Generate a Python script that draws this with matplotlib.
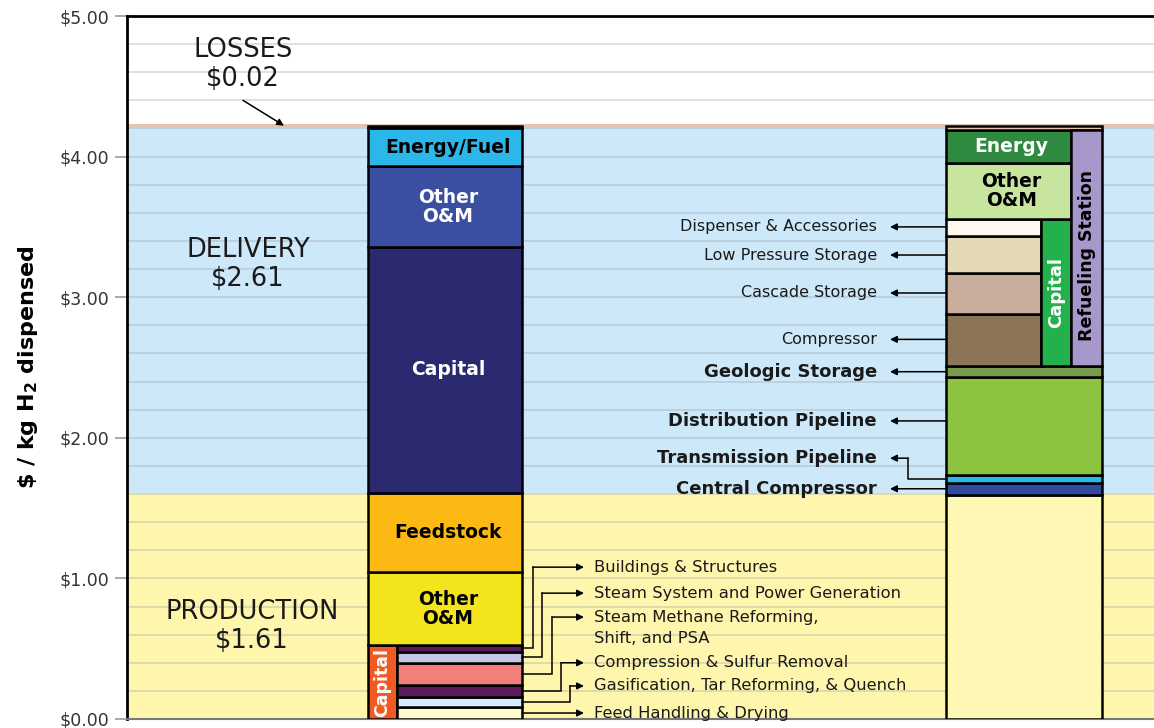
import numpy as np
import matplotlib
matplotlib.use('Agg')
import matplotlib.pyplot as plt

# ---- data ($ / kg H2) ----
band_names = ['PRODUCTION', 'DELIVERY', 'LOSSES']
band_values = [1.61, 2.60, 0.02]
band_labels = ['$1.61', '$2.61', '$0.02']

# left bar: production capital detail (bottom -> top)
prod_cap_names = ['Feed Handling & Drying',
                  'Gasification, Tar Reforming, & Quench',
                  'Compression & Sulfur Removal',
                  'Steam Methane Reforming,\nShift, and PSA',
                  'Steam System and Power Generation',
                  'Buildings & Structures']
prod_cap_values = [0.085, 0.071, 0.089, 0.153, 0.082, 0.046]
prod_cap_colors = ['#FFFBCC', '#D3EBFA', '#5E1B5C', '#F27F7A', '#C6C8E8', '#5A1D5A']

# left bar: main stack above the capital block (bottom -> top)
left_names = ['Other\nO&M', 'Feedstock', 'Capital', 'Other\nO&M', 'Energy/Fuel', '']
left_values = [0.519, 0.565, 1.75, 0.57, 0.27, 0.02]
left_colors = ['#F4E41C', '#FDB913', '#2B2A70', '#3A4FA1', '#2BB7EA', '#E6C3AC']
left_text_colors = ['black', 'black', 'white', 'white', 'black', 'black']

# right bar: production + delivery pieces (bottom -> top)
right_names = ['', 'Central Compressor', 'Transmission Pipeline',
               'Distribution Pipeline', 'Geologic Storage']
right_values = [1.595, 0.085, 0.055, 0.695, 0.08]
right_colors = ['#FFF8B4', '#2F4A9E', '#2BB7EA', '#8CC43F', '#7A9A4E']

# right bar: refueling station capital (bottom -> top)
station_names = ['Compressor', 'Cascade Storage', 'Low Pressure Storage',
                 'Dispenser & Accessories']
station_values = [0.37, 0.295, 0.26, 0.123]
station_colors = ['#8C7456', '#C9AE9D', '#E4D8B6', '#FFF8EE']

station_top_names = ['Other\nO&M', 'Energy', '']
station_top_values = [0.40, 0.23, 0.03]
station_top_colors = ['#C8E5A0', '#2D8A3E', '#E6C3AC']
station_top_text = ['black', 'white', 'black']

# ---- layout ----
plt.rcParams['font.family'] = 'DejaVu Sans'
plt.rcParams['mathtext.fontset'] = 'dejavusans'

fig = plt.figure(figsize=(11.54, 7.28), dpi=100)
ax = fig.add_axes([127 / 1154, 9 / 728, 1 - 127 / 1154, 703 / 728])
ax.set_xlim(0, 10.27)
ax.set_ylim(0, 5)

EDGE = dict(edgecolor='black', linewidth=1.8)

# background bands
bottom = 0
band_colors = ['#FFF6AE', '#CDE8F9', '#E6C3AC']
for val, col in zip(band_values, band_colors):
    ax.axhspan(bottom, bottom + val, color=col, zorder=0, lw=0)
    bottom += val

# grid
ax.set_yticks(np.arange(0, 5.01, 1))
ax.set_yticks(np.arange(0, 5.01, 0.2), minor=True)
ax.grid(True, which='both', axis='y', color='#8F9AA0', alpha=0.35, lw=1.2, zorder=0.5)
ax.set_yticklabels(['${:.2f}'.format(v) for v in np.arange(0, 5.01, 1)],
                   fontsize=12.5, color='#333333')
ax.tick_params(axis='y', which='major', length=9, width=1.2, color='#999999', pad=4)
ax.tick_params(axis='y', which='minor', length=0)
ax.set_xticks([])
ax.spines['right'].set_visible(False)
ax.spines['left'].set_linewidth(2)
ax.spines['top'].set_linewidth(2)
ax.spines['bottom'].set_color('#777777')
ax.spines['bottom'].set_linewidth(1.5)

ax.set_ylabel(r'\$ / kg H$_\mathbf{2}$ dispensed', fontsize=16, fontweight='bold', labelpad=14)

# ---- left bar ----
LX0, LX1 = 2.41, 3.95
LCOL = 2.70  # split between "Capital" column and detail
cap_total = sum(prod_cap_values)
ax.bar(LX0, cap_total, width=LCOL - LX0, bottom=0, align='edge',
       color='#F15A22', zorder=3, **EDGE)
ax.text((LX0 + LCOL) / 2, cap_total / 2, 'Capital', rotation=90, ha='center', va='center',
        color='white', fontsize=12.5, fontweight='bold', zorder=5)

b = 0
cap_mids = []
for val, col in zip(prod_cap_values, prod_cap_colors):
    ax.bar(LCOL, val, width=LX1 - LCOL, bottom=b, align='edge', color=col, zorder=3, **EDGE)
    cap_mids.append(b + val / 2)
    b += val

b = cap_total
for name, val, col, tc in zip(left_names, left_values, left_colors, left_text_colors):
    ax.bar(LX0, val, width=LX1 - LX0, bottom=b, align='edge', color=col, zorder=3, **EDGE)
    if name:
        ax.text((LX0 + LX1) / 2 + 0.03, b + val / 2, name, ha='center', va='center',
                color=tc, fontsize=13.5, fontweight='bold', linespacing=1.0, zorder=5)
    b += val

# left annotations
label_y = [cap_mids[0], 0.235, 0.40, 0.725, 0.895, 1.08]
bend_x = [None, 4.43, 4.34, 4.25, 4.15, 4.06]
TIP_X, TXT_X = 4.57, 4.67
for name, mid, ly, bx in zip(prod_cap_names, cap_mids, label_y, bend_x):
    if bx is None:
        start = LX1
    else:
        ax.plot([LX1, bx, bx], [mid, mid, ly], color='black', lw=1.1, zorder=4,
                solid_joinstyle='miter')
        start = bx
    ax.annotate('', xy=(TIP_X, ly), xytext=(start, ly),
                arrowprops=dict(arrowstyle='-|>', color='black', lw=1.1,
                                mutation_scale=10, shrinkA=0, shrinkB=0), zorder=4)
    for i, line in enumerate(name.split('\n')):
        ax.text(TXT_X, ly - i * 0.15, line, ha='left', va='center', fontsize=11.8,
                color='#1a1a1a', zorder=5)

# ---- right bar ----
RX0, RX1 = 8.19, 9.75
RS1, RC1 = 9.14, 9.44   # station detail | capital column | refueling column
b = 0
right_mids = []
for val, col in zip(right_values, right_colors):
    ax.bar(RX0, val, width=RX1 - RX0, bottom=b, align='edge', color=col, zorder=3, **EDGE)
    right_mids.append(b + val / 2)
    b += val
st_base = b

station_mids = []
for val, col in zip(station_values, station_colors):
    ax.bar(RX0, val, width=RS1 - RX0, bottom=b, align='edge', color=col, zorder=3, **EDGE)
    station_mids.append(b + val / 2)
    b += val
st_cap_top = b
ax.bar(RS1, st_cap_top - st_base, width=RC1 - RS1, bottom=st_base, align='edge',
       color='#22B14C', zorder=3, **EDGE)
ax.text((RS1 + RC1) / 2, (st_base + st_cap_top) / 2, 'Capital', rotation=90,
        ha='center', va='center', color='white', fontsize=13, fontweight='bold', zorder=5)

for name, val, col, tc in zip(station_top_names, station_top_values,
                              station_top_colors, station_top_text):
    w = RC1 - RX0 if name else RX1 - RX0
    ax.bar(RX0, val, width=w, bottom=b, align='edge', color=col, zorder=3, **EDGE)
    if name:
        ax.text((RX0 + RC1) / 2 + 0.03, b + val / 2, name, ha='center', va='center',
                color=tc, fontsize=13.5, fontweight='bold', linespacing=1.0, zorder=5)
        st_top = b + val
    b += val
ax.bar(RC1, st_top - st_base, width=RX1 - RC1, bottom=st_base, align='edge',
       color='#A897CA', zorder=3, **EDGE)
ax.text((RC1 + RX1) / 2, (st_base + st_top) / 2 - 0.05, 'Refueling Station', rotation=90,
        ha='center', va='center', color='black', fontsize=12.5, fontweight='bold', zorder=5)

# right annotations (arrows point towards the text)
r_names = station_names[::-1] + right_names[:0:-1]
r_mids = station_mids[::-1] + right_mids[:0:-1]
r_label_y = [3.50, 3.30, 3.03, 2.70, 2.47, 2.12, 1.855, 1.6375]
r_arrow_y = [3.50, 3.30, 3.03, 2.70, 2.47, 2.12, r_mids[6], 1.6375]
r_bold = [False, False, False, False, True, True, True, True]
R_TIP, R_BEND, R_TXT = 7.63, 7.81, 7.50
for name, ly, ay, bold in zip(r_names, r_label_y, r_arrow_y, r_bold):
    if abs(ly - ay) > 0.01:
        ax.plot([RX0, R_BEND, R_BEND], [ay, ay, ly], color='black', lw=1.1, zorder=4)
        start = R_BEND
    else:
        start = RX0
    ax.annotate('', xy=(R_TIP, ly), xytext=(start, ly),
                arrowprops=dict(arrowstyle='-|>', color='black', lw=1.1,
                                mutation_scale=10, shrinkA=0, shrinkB=0), zorder=4)
    ax.text(R_TXT, ly, name, ha='right', va='center',
            fontsize=13 if bold else 11.5, fontweight='bold' if bold else 'normal',
            color='#1a1a1a', zorder=5)

# ---- band labels ----
ax.text(1.25, band_values[0] * 0.41, band_names[0] + '\n' + band_labels[0],
        ha='center', va='center', fontsize=18.5, linespacing=1.15, color='#1a1a1a')
ax.text(1.21, 3.23, band_names[1] + '\n' + band_labels[1],
        ha='center', va='center', fontsize=18.5, linespacing=1.15, color='#1a1a1a')
ax.text(1.16, 4.655, band_names[2] + '\n' + band_labels[2],
        ha='center', va='center', fontsize=18.5, linespacing=1.15, color='#1a1a1a')
ax.annotate('', xy=(1.57, sum(band_values[:2]) + 0.01), xytext=(1.16, 4.40),
            arrowprops=dict(arrowstyle='-|>', color='black', lw=1.1,
                            mutation_scale=10, shrinkA=0, shrinkB=0))

fig.savefig('out.png', dpi=100)
